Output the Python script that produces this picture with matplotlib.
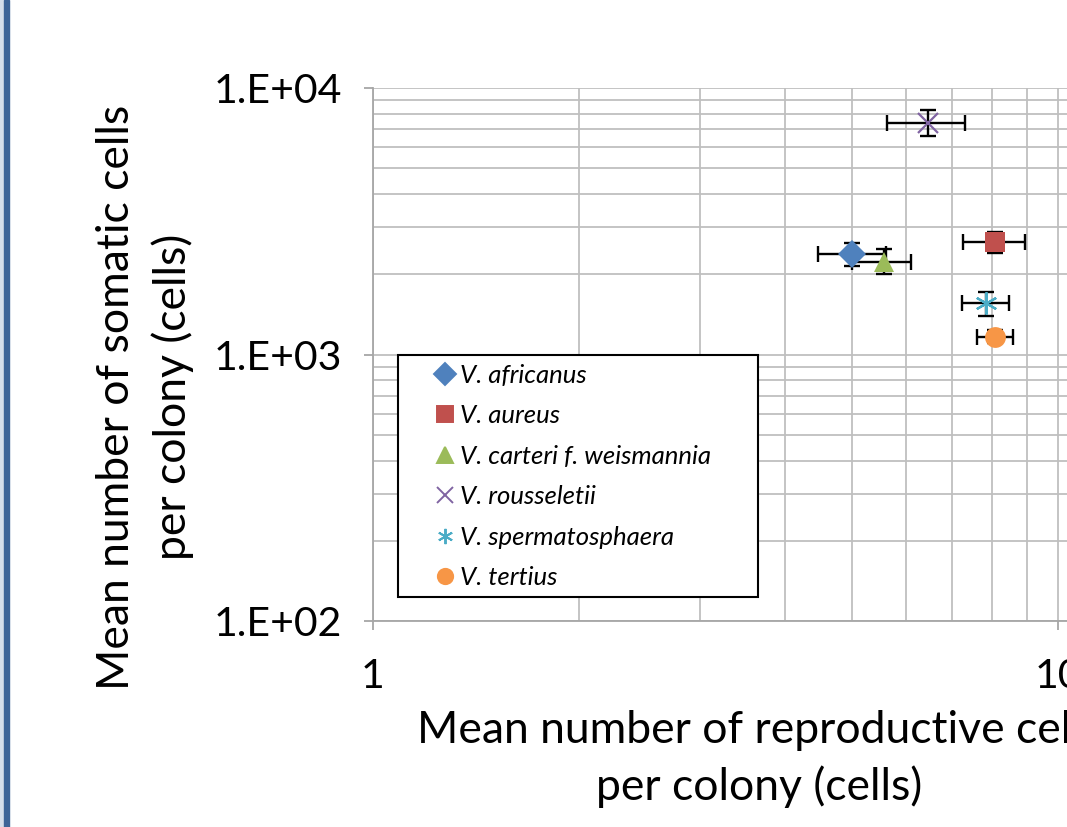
import matplotlib.pyplot as plt
from matplotlib.lines import Line2D
from matplotlib.patches import Rectangle
from matplotlib.ticker import LogLocator, NullFormatter

# species data (means with lower / upper error bounds)
species = ['V. africanus', 'V. aureus', 'V. carteri f. weismannia',
           'V. rousseletii', 'V. spermatosphaera', 'V. tertius']
repro_mean = [5.0, 8.09, 5.57, 6.47, 7.84, 8.09]
repro_low = [4.46, 7.26, 5.0, 5.62, 7.23, 7.61]
repro_high = [5.61, 8.95, 6.1, 7.32, 8.47, 8.61]
soma_mean = [2384, 2642, 2228, 7413, 1563, 1166]
soma_low = [2148, 2398, 2000, 6607, 1395, 1100]
soma_high = [2618, 2890, 2489, 8264, 1721, 1240]

colors = ['#4F81BD', '#C0504D', '#9BBB59', '#8064A2', '#4BACC6', '#F79646']
markers = ['D', 's', '^', 'x', (6, 2, 0), 'o']
sizes = [14, 15, 15, 14, 16, 15]

ytick_vals = [100, 1000, 10000]
ytick_labels = ['1.E+02', '1.E+03', '1.E+04']
xtick_vals = [1, 10]
xtick_labels = ['1', '10']

plt.rcParams['font.family'] = ['Lato', 'DejaVu Sans']

W, H = 1067, 827
fig = plt.figure(figsize=(W / 100, H / 100), dpi=100)
ax = fig.add_axes([373 / W, 206 / H, 1370 / W, 533 / H])

for i in range(len(species)):
    xe = [[repro_mean[i] - repro_low[i]], [repro_high[i] - repro_mean[i]]]
    ye = [[soma_mean[i] - soma_low[i]], [soma_high[i] - soma_mean[i]]]
    ax.errorbar(repro_mean[i], soma_mean[i], xerr=xe, yerr=ye, fmt='none',
                ecolor='black', elinewidth=1.7, capsize=5.5, capthick=1.7, zorder=3)
    mew = 1.6 if markers[i] in ('x', (6, 2, 0)) else 0
    ax.plot(repro_mean[i], soma_mean[i], linestyle='none', marker=markers[i],
            markersize=sizes[i], color=colors[i], markeredgewidth=mew, zorder=4)

ax.set_xscale('log')
ax.set_yscale('log')
ax.set_xlim(1, 100)
ax.set_ylim(100, 10000)
ax.set_xticks(xtick_vals)
ax.set_xticklabels(xtick_labels)
ax.set_yticks(ytick_vals)
ax.set_yticklabels(ytick_labels)
ax.xaxis.set_minor_locator(LogLocator(base=10, subs=range(2, 10)))
ax.yaxis.set_minor_locator(LogLocator(base=10, subs=range(2, 10)))
ax.xaxis.set_minor_formatter(NullFormatter())
ax.yaxis.set_minor_formatter(NullFormatter())
ax.tick_params(which='minor', length=0)
ax.tick_params(which='major', length=6.5, width=1.3, color='#A6A6A6',
               labelsize=29.5, pad=16)
ax.tick_params(axis='x', which='major', pad=20)
ax.grid(True, which='both', color='#BFBFBF', linewidth=1.3)
ax.set_axisbelow(True)
for s in ['top', 'right']:
    ax.spines[s].set_visible(False)
for s in ['left', 'bottom']:
    ax.spines[s].set_color('#A6A6A6')
    ax.spines[s].set_linewidth(1.3)

# legend: marker-only handles, frame drawn separately like the Excel box
handles = [Line2D([], [], linestyle='none', marker=markers[i], color=colors[i],
                  markersize=11, markeredgewidth=1.4) for i in range(len(species))]
leg = fig.legend(handles, species, loc='upper left',
                 bbox_to_anchor=(436 / W, 1 - 364 / H), bbox_transform=fig.transFigure,
                 prop={'style': 'italic', 'size': 18.5}, frameon=False,
                 borderaxespad=0, borderpad=0, labelspacing=0.68,
                 handlelength=0.7, handletextpad=0.25)
leg.set_zorder(10)
fig.patches.append(Rectangle((398 / W, 1 - 597 / H), 360 / W, 242 / H,
                             transform=fig.transFigure, facecolor='white',
                             edgecolor='black', linewidth=1.5, zorder=5))

# axis titles positioned like the original
fig.text(145 / W, 1 - 397 / H, 'Mean number of somatic cells\nper colony (cells)',
         rotation=90, ha='center', va='center', fontsize=32, linespacing=1.4)
fig.text(759 / W, 1 - 759 / H, 'Mean number of reproductive cells\nper colony (cells)',
         ha='center', va='center', fontsize=32, linespacing=1.4)

# slide border on the left edge
fig.patches.append(Rectangle((0, 0), 4 / W, 1, transform=fig.transFigure,
                             color='#D5DEEA', zorder=0))
fig.patches.append(Rectangle((4 / W, 0), 5 / W, 1, transform=fig.transFigure,
                             color='#3D6497', zorder=0))

fig.savefig('out.png', dpi=100)
